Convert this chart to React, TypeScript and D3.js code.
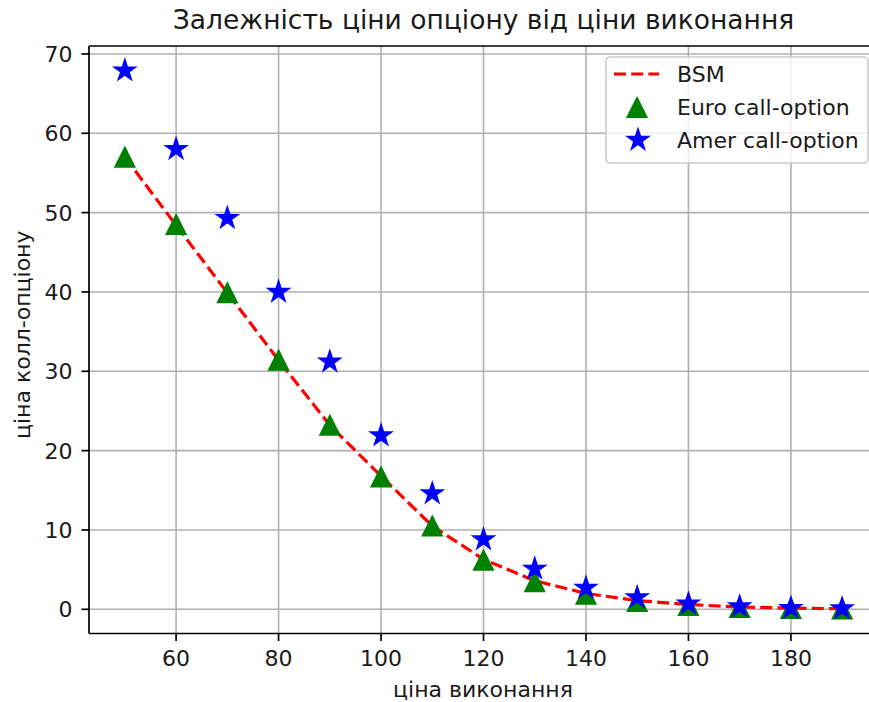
import * as d3 from "d3";

const W = 869;
const H = 702;
const MARGIN = { top: 46, right: -9, bottom: 68.5, left: 89 };

const strikes = [50, 60, 70, 80, 90, 100, 110, 120, 130, 140, 150, 160, 170, 180, 190];
const bsmPrice = [57.0, 48.4, 39.9, 31.4, 23.2, 16.8, 10.5, 6.3, 3.6, 2.0, 1.1, 0.6, 0.3, 0.15, 0.07];
const euroPrice = [57.0, 48.5, 39.9, 31.4, 23.2, 16.7, 10.5, 6.2, 3.5, 1.9, 1.0, 0.5, 0.25, 0.12, 0.05];
const amerPrice = [67.9, 58.0, 49.3, 40.0, 31.2, 21.9, 14.6, 8.8, 5.1, 2.7, 1.5, 0.7, 0.35, 0.15, 0.1];

const xTicks = [60, 80, 100, 120, 140, 160, 180];
const yTicks = [0, 10, 20, 30, 40, 50, 60, 70];

const FONT = "'DejaVu Sans', sans-serif";
const TEXT = "#1a1a1a";
const FS = 22;

const trianglePath = (r: number) => `M0,${-r}L${r},${r}L${-r},${r}Z`;
const starPath = d3.symbol().type(d3.symbolStar).size((11 * 11) / 0.8908130915292852)();

export default function App() {
  const boundsW = W - MARGIN.left - MARGIN.right;
  const boundsH = H - MARGIN.top - MARGIN.bottom;

  const x = d3.scaleLinear().domain([43, 197]).range([0, boundsW]);
  const y = d3.scaleLinear().domain([-3.05, 71.0]).range([boundsH, 0]);

  const line = d3
    .line<number>()
    .x((_, i) => x(strikes[i]))
    .y((d) => y(d));

  const legendX = 606 - MARGIN.left;
  const legendY = 57 - MARGIN.top;

  return (
    <svg
      width={W}
      height={H}
      style={{ position: "absolute", left: 0, top: 0, background: "#fff" }}
      fontFamily={FONT}
    >
      <text x={MARGIN.left + boundsW / 2} y={29} textAnchor="middle" fontSize={26.5} fill={TEXT}>
        Залежність ціни опціону від ціни виконання
      </text>
      <g transform={`translate(${MARGIN.left},${MARGIN.top})`}>
        {/* grid */}
        {xTicks.map((t) => (
          <line key={"gx" + t} x1={x(t)} x2={x(t)} y1={0} y2={boundsH} stroke="#b0b0b0" strokeWidth={1.6} />
        ))}
        {yTicks.map((t) => (
          <line key={"gy" + t} x1={0} x2={boundsW} y1={y(t)} y2={y(t)} stroke="#b0b0b0" strokeWidth={1.6} />
        ))}

        {/* BSM line */}
        <path
          d={line(bsmPrice) ?? ""}
          fill="none"
          stroke="#ff0000"
          strokeWidth={3.2}
          strokeDasharray="12,5.2"
        />

        {/* euro triangles */}
        {euroPrice.map((v, i) => (
          <path
            key={"e" + i}
            d={trianglePath(9.8)}
            transform={`translate(${x(strikes[i])},${y(v)})`}
            fill="#008000"
            stroke="#008000"
            strokeWidth={1.6}
          />
        ))}

        {/* amer stars */}
        {amerPrice.map((v, i) => (
          <path
            key={"a" + i}
            d={starPath ?? ""}
            transform={`translate(${x(strikes[i])},${y(v)})`}
            fill="#0000ff"
            stroke="#0000ff"
            strokeWidth={1.6}
          />
        ))}

        {/* spines */}
        <line x1={0} x2={0} y1={0} y2={boundsH} stroke="#000" strokeWidth={1.7} />
        <line x1={0} x2={boundsW} y1={boundsH} y2={boundsH} stroke="#000" strokeWidth={1.7} />
        <line x1={0} x2={boundsW} y1={0} y2={0} stroke="#000" strokeWidth={1.7} />

        {/* x ticks */}
        {xTicks.map((t) => (
          <g key={"xt" + t} transform={`translate(${x(t)},${boundsH})`}>
            <line y1={0} y2={7.5} stroke="#000" strokeWidth={1.7} />
            <text y={32.5} textAnchor="middle" fontSize={FS} fill={TEXT}>
              {t}
            </text>
          </g>
        ))}

        {/* y ticks */}
        {yTicks.map((t) => (
          <g key={"yt" + t} transform={`translate(0,${y(t)})`}>
            <line x1={0} x2={-7.5} stroke="#000" strokeWidth={1.7} />
            <text x={-16.5} dy="0.36em" textAnchor="end" fontSize={FS} fill={TEXT}>
              {t}
            </text>
          </g>
        ))}

        {/* legend */}
        <g transform={`translate(${legendX},${legendY})`}>
          <rect
            width={262}
            height={106}
            rx={4}
            fill="#ffffff"
            fillOpacity={0.8}
            stroke="#cccccc"
            strokeWidth={1.6}
          />
          <line x1={8} x2={53} y1={17} y2={17} stroke="#ff0000" strokeWidth={3.2} strokeDasharray="12,5.2" />
          <text x={71} y={17} dy="0.36em" fontSize={FS} fill={TEXT}>
            BSM
          </text>
          <path
            d={trianglePath(9.8)}
            transform="translate(31,50.5)"
            fill="#008000"
            stroke="#008000"
            strokeWidth={1.6}
          />
          <text x={71} y={50} dy="0.36em" fontSize={FS} fill={TEXT}>
            Euro call-option
          </text>
          <path d={starPath ?? ""} transform="translate(32,83)" fill="#0000ff" stroke="#0000ff" strokeWidth={1.6} />
          <text x={71} y={83} dy="0.36em" fontSize={FS} fill={TEXT}>
            Amer call-option
          </text>
        </g>
      </g>

      <text x={MARGIN.left + boundsW / 2 - 0.5} y={697} textAnchor="middle" fontSize={FS} fill={TEXT}>
        ціна виконання
      </text>
      <text
        transform={`translate(30,${MARGIN.top + boundsH / 2 - 5}) rotate(-90)`}
        textAnchor="middle"
        fontSize={FS}
        fill={TEXT}
      >
        ціна колл-опціону
      </text>
    </svg>
  );
}
